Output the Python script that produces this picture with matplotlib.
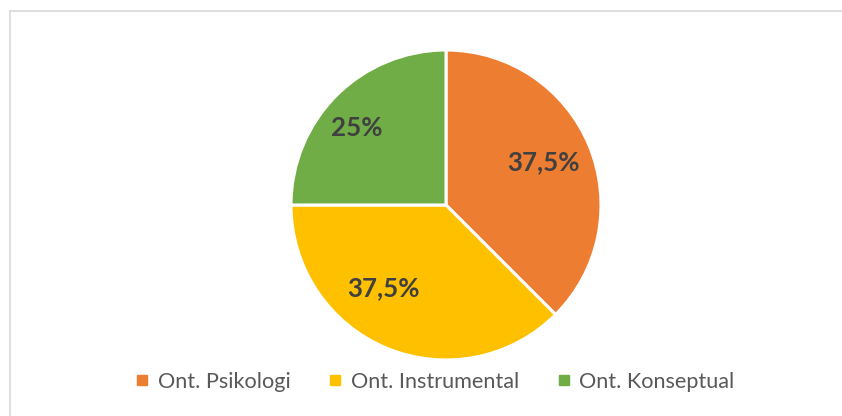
import matplotlib.pyplot as plt
from matplotlib.lines import Line2D
import numpy as np

labels = ['Ont. Psikologi', 'Ont. Instrumental', 'Ont. Konseptual']
values = [37.5, 37.5, 25]
pct_text = ['37,5%', '37,5%', '25%']
colors = ['#ED7D31', '#FFC000', '#70AD47']

# where Excel put the data labels (angle in degrees, radius as fraction)
lab_angle = [23.9, -127.2, 139]
lab_r = [0.685, 0.67, 0.76]

W, H = 842, 416
fig = plt.figure(figsize=(W / 100, H / 100), dpi=100)

# chart area border (only top and left visible in the crop)
fig.add_artist(Line2D([9.5 / W, 1], [1 - 10.5 / H] * 2, color='#D9D9D9', lw=1.2))
fig.add_artist(Line2D([9.5 / W] * 2, [0, 1 - 10.5 / H], color='#D9D9D9', lw=1.2))

cx, cy, r = 446, 205, 155
ax = fig.add_axes([(cx - r) / W, (H - cy - r) / H, 2 * r / W, 2 * r / H])
wedges, _ = ax.pie(values, colors=colors, startangle=90, counterclock=False,
                   wedgeprops=dict(edgecolor='white', linewidth=2.2))
for w in wedges:
    w.set_clip_on(False)
ax.set_xlim(-1, 1)
ax.set_ylim(-1, 1)

for t, a, d in zip(pct_text, lab_angle, lab_r):
    ax.text(d * np.cos(np.radians(a)), d * np.sin(np.radians(a)), t,
            ha='center', va='center', fontsize=18.6, fontweight='bold',
            family='Lato', color='#404040')

handles = [plt.Line2D([], [], marker='s', ls='', color=c, markersize=6.5) for c in colors]
fig.legend(handles, labels, loc='center', bbox_to_anchor=(436 / W, 1 - 382 / H),
           ncol=3, frameon=False, handlelength=0.45, handletextpad=0.48,
           columnspacing=1.85, prop=dict(family='Lato', size=15.6),
           labelcolor='#595959')

fig.savefig('out.png', dpi=100)
